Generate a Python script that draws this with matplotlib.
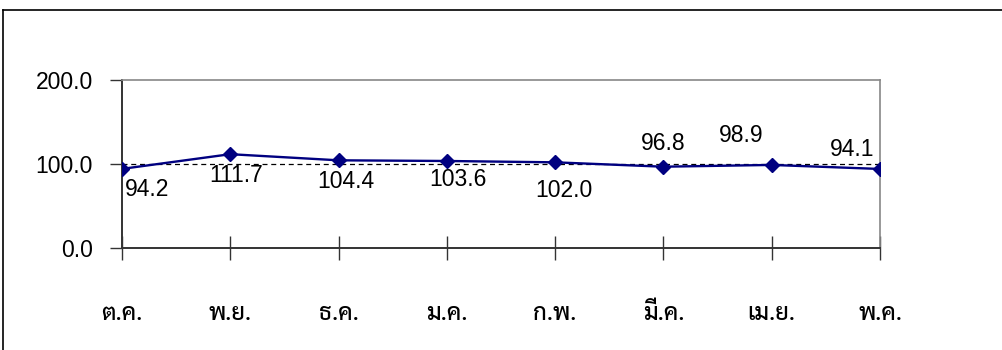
import os
import matplotlib
matplotlib.use("Agg")
import matplotlib.pyplot as plt
from matplotlib import font_manager
from matplotlib.lines import Line2D

# monthly index, Oct - May
months = ["ต.ค.", "พ.ย.", "ธ.ค.", "ม.ค.", "ก.พ.", "มี.ค.", "เม.ย.", "พ.ค."]
values = [94.2, 111.7, 104.4, 103.6, 102.0, 96.8, 98.9, 94.1]
yticks = [0.0, 100.0, 200.0]
base_line = 100.0
# label offsets in points (dx, dy)
label_offsets = [(18, -15), (4, -15), (5, -15), (8, -13), (6, -20), (0, 17), (-22, 21), (-20, 14)]


def thai_font():
    wanted = ["Sarabun-Medium.ttf", "Sarabun-SemiBold.ttf", "Sarabun-Regular.ttf",
              "IBMPlexSansThaiLooped-Medium.ttf"]
    paths = {os.path.basename(p): p for p in font_manager.findSystemFonts()}
    for name in wanted:
        if name in paths:
            return font_manager.FontProperties(fname=paths[name], size=17)
    return font_manager.FontProperties(family="DejaVu Sans", size=16)


thai_prop = thai_font()

plt.rcParams["font.family"] = ["Liberation Sans", "DejaVu Sans"]

fig = plt.figure(figsize=(10.03, 3.5), dpi=100)
ax = fig.add_axes([0.1216, 0.2914, 0.7558, 0.48])

x = list(range(len(values)))
ax.axhline(base_line, color="black", lw=0.9, ls=(0, (4, 3)), zorder=1)
ax.plot(x, values, color="#000080", lw=1.7, marker="D", markersize=7,
        markerfacecolor="#000080", markeredgecolor="#000080", zorder=3)

for xi, v, (dx, dy) in zip(x, values, label_offsets):
    ax.annotate("%.1f" % v, (xi, v), xytext=(dx, dy), textcoords="offset points",
                ha="center", va="center", fontsize=16.5, color="black")

ax.set_xlim(0, len(values) - 1)
ax.set_ylim(0, 200)
ax.set_yticks(yticks)
ax.set_yticklabels(["%.1f" % t for t in yticks], fontsize=16.5)
ax.set_xticks(x)
ax.set_xticklabels(months, fontproperties=thai_prop)

ax.tick_params(axis="y", direction="out", length=9, width=1, color="#333333", pad=12)
ax.tick_params(axis="x", direction="inout", length=17, width=1, color="#333333", pad=31)

for side in ["left", "bottom"]:
    ax.spines[side].set_color("#333333")
    ax.spines[side].set_linewidth(1.4)
for side in ["top", "right"]:
    ax.spines[side].set_color("#888888")
    ax.spines[side].set_linewidth(1.2)
for t in ax.get_xticklines():
    t.set_clip_on(False)

# outer chart frame (left and top edges)
fig.add_artist(Line2D([0.003, 0.003], [0.0, 0.971], color="black", lw=1.2))
fig.add_artist(Line2D([0.003, 1.0], [0.971, 0.971], color="black", lw=1.2))

fig.savefig("out.png", dpi=100)
